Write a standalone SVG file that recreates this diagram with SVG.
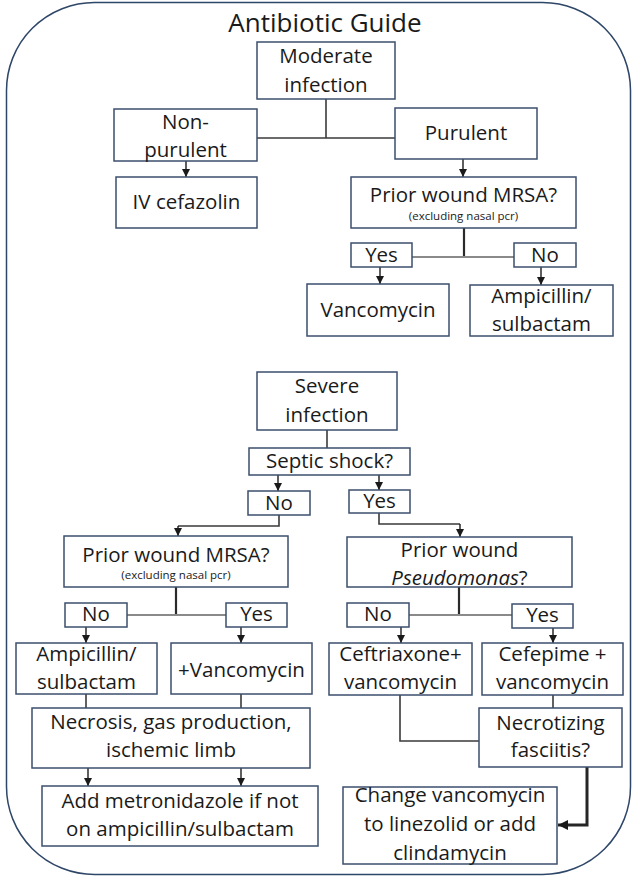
<svg xmlns="http://www.w3.org/2000/svg" width="633" height="877" viewBox="0 0 633 877">
<style>
.bx{fill:#fff;stroke:#3d4f6e;stroke-width:1.5}
.t{font-family:"Open Sans","Noto Sans",sans-serif;font-size:20.5px;fill:#1a1a1a;text-anchor:middle}
.s{font-family:"Open Sans","Noto Sans",sans-serif;font-size:11.5px;fill:#1a1a1a;text-anchor:middle}
.ttl{font-family:"Open Sans","Noto Sans",sans-serif;font-size:26px;fill:#1a1a1a;text-anchor:middle}
.c{fill:none;stroke:#3a3a3a;stroke-width:1.6}
.g{fill:none;stroke:#8a8a8a;stroke-width:2}
.d{fill:none;stroke:#2a2a2a;stroke-width:2.2}
.a{fill:none;stroke:#1a1a1a;stroke-width:1.4;marker-end:url(#ah)}
.ab{fill:none;stroke:#262626;stroke-width:3;marker-end:url(#ahb)}
</style>
<defs>
<marker id="ah" viewBox="0 0 10 10" refX="10" refY="5" markerWidth="8" markerHeight="8" orient="auto" markerUnits="userSpaceOnUse"><path d="M0,0 L10,5 L0,10 z" fill="#1a1a1a"/></marker>
<marker id="ahb" viewBox="0 0 10 10" refX="10" refY="5" markerWidth="11" markerHeight="10" orient="auto" markerUnits="userSpaceOnUse"><path d="M0,0 L10,5 L0,10 z" fill="#1a1a1a"/></marker>
</defs>
<rect x="6.5" y="2.5" width="624" height="872" rx="88" ry="88" fill="#fff" stroke="#2e4668" stroke-width="1.5"/>
<text class="ttl" x="325" y="32">Antibiotic Guide</text>

<g id="connectors">
<path class="c" d="M326,99 V138"/>
<path class="c" d="M257,138 H395"/>
<path class="a" d="M186,161 V177"/>
<path class="a" d="M463,159 V177"/>
<path class="d" d="M464,228 V257"/>
<path class="g" d="M412,257 H514"/>
<path class="a" d="M380,267 V284"/>
<path class="a" d="M541,267 V285"/>
<path class="c" d="M327,430 V448"/>
<path class="a" d="M278,475 V491"/>
<path class="a" d="M379,475 V490"/>
<path class="c" d="M279,515 V526 H178"/>
<path class="a" d="M178,526 V536"/>
<path class="c" d="M379,513 V524 H460"/>
<path class="a" d="M460,524 V537"/>
<path class="d" d="M176,587 V615"/>
<path class="g" d="M127,615 H226"/>
<path class="a" d="M86,627 V643"/>
<path class="a" d="M241,627 V643"/>
<path class="d" d="M459,587 V615"/>
<path class="g" d="M409,615 H512"/>
<path class="a" d="M401,627 V643"/>
<path class="a" d="M553,628 V643"/>
<path class="c" d="M86,694 V708"/>
<path class="c" d="M241,694 V708"/>
<path class="a" d="M88,768 V786"/>
<path class="a" d="M241,768 V786"/>
<path class="c" d="M400,695 V741 H479"/>
<path class="c" d="M553,695 V708"/>
<path class="ab" d="M587,767 V825 H558"/>
</g>

<g id="moderate"><rect class="bx" x="257" y="42" width="138" height="57"/><text class="t" x="326" y="63">Moderate</text><text class="t" x="326" y="92">infection</text></g>
<g id="nonpurulent"><rect class="bx" x="114" y="109" width="143" height="52"/><text class="t" x="185.5" y="129">Non-</text><text class="t" x="185.5" y="157">purulent</text></g>
<g id="purulent"><rect class="bx" x="395" y="108" width="142" height="51"/><text class="t" x="466" y="140">Purulent</text></g>
<g id="ivcefazolin"><rect class="bx" x="116" y="177" width="141" height="51"/><text class="t" x="186.5" y="209">IV cefazolin</text></g>
<g id="mrsa1"><rect class="bx" x="351" y="177" width="225" height="51"/><text class="t" x="463.5" y="202">Prior wound MRSA?</text><text class="s" x="463.5" y="220">(excluding nasal pcr)</text></g>
<g id="yes1"><rect class="bx" x="351" y="243" width="61" height="24"/><text class="t" x="381.5" y="262">Yes</text></g>
<g id="no1"><rect class="bx" x="514" y="243" width="62" height="24"/><text class="t" x="545" y="262">No</text></g>
<g id="vancomycin1"><rect class="bx" x="307" y="284" width="142" height="52"/><text class="t" x="378" y="317">Vancomycin</text></g>
<g id="ampsul1"><rect class="bx" x="470" y="285" width="143" height="51"/><text class="t" x="541.5" y="303">Ampicillin/</text><text class="t" x="541.5" y="331">sulbactam</text></g>

<g id="severe"><rect class="bx" x="257" y="372" width="140" height="58"/><text class="t" x="327" y="393">Severe</text><text class="t" x="327" y="422">infection</text></g>
<g id="septic"><rect class="bx" x="249" y="448" width="161" height="27"/><text class="t" x="329.5" y="468">Septic shock?</text></g>
<g id="no2"><rect class="bx" x="248" y="491" width="62" height="24"/><text class="t" x="279" y="510">No</text></g>
<g id="yes2"><rect class="bx" x="349" y="490" width="61" height="23"/><text class="t" x="379.5" y="508">Yes</text></g>
<g id="mrsa2"><rect class="bx" x="64" y="536" width="224" height="51"/><text class="t" x="176" y="562">Prior wound MRSA?</text><text class="s" x="176" y="579">(excluding nasal pcr)</text></g>
<g id="pseudomonas"><rect class="bx" x="347" y="537" width="225" height="50"/><text class="t" x="459.5" y="557">Prior wound</text><text class="t" x="459.5" y="585"><tspan font-style="italic">Pseudomonas</tspan>?</text></g>
<g id="no3"><rect class="bx" x="65" y="603" width="62" height="24"/><text class="t" x="96" y="621">No</text></g>
<g id="yes3"><rect class="bx" x="226" y="603" width="61" height="24"/><text class="t" x="256.5" y="621">Yes</text></g>
<g id="no4"><rect class="bx" x="347" y="603" width="62" height="24"/><text class="t" x="378" y="621">No</text></g>
<g id="yes4"><rect class="bx" x="512" y="604" width="61" height="24"/><text class="t" x="542.5" y="622">Yes</text></g>
<g id="ampsul2"><rect class="bx" x="16" y="643" width="141" height="51"/><text class="t" x="86.5" y="661">Ampicillin/</text><text class="t" x="86.5" y="689">sulbactam</text></g>
<g id="vancomycin2"><rect class="bx" x="171" y="643" width="141" height="51"/><text class="t" x="241.5" y="677">+Vancomycin</text></g>
<g id="ceftriaxone"><rect class="bx" x="329" y="643" width="143" height="52"/><text class="t" x="400.5" y="661">Ceftriaxone+</text><text class="t" x="400.5" y="689">vancomycin</text></g>
<g id="cefepime"><rect class="bx" x="482" y="643" width="141" height="52"/><text class="t" x="552.5" y="661">Cefepime +</text><text class="t" x="552.5" y="689">vancomycin</text></g>
<g id="necrosis"><rect class="bx" x="32" y="708" width="278" height="60"/><text class="t" x="171" y="729">Necrosis, gas production,</text><text class="t" x="171" y="757">ischemic limb</text></g>
<g id="necfasciitis"><rect class="bx" x="479" y="708" width="143" height="59"/><text class="t" x="550.5" y="730">Necrotizing</text><text class="t" x="550.5" y="757">fasciitis?</text></g>
<g id="metronidazole"><rect class="bx" x="42" y="786" width="276" height="60"/><text class="t" x="180" y="808">Add metronidazole if not</text><text class="t" x="180" y="836">on ampicillin/sulbactam</text></g>
<g id="changevanc"><rect class="bx" x="343" y="787" width="214" height="77"/><text class="t" x="450" y="802">Change vancomycin</text><text class="t" x="450" y="831">to linezolid or add</text><text class="t" x="450" y="860">clindamycin</text></g>
</svg>
